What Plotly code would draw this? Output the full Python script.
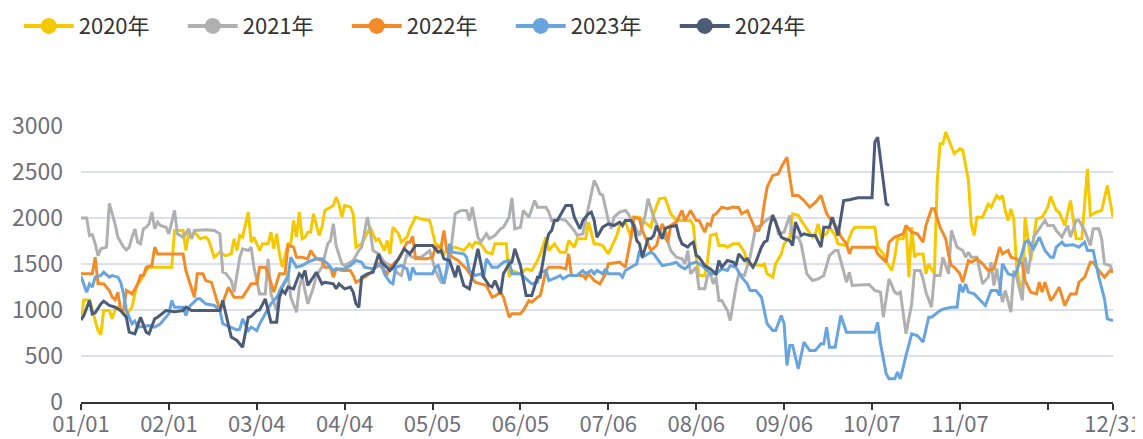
import plotly.graph_objects as go

# ---------------- data (day index from 01/01, value) ----------------
series_names = ["2020年", "2021年", "2022年", "2023年", "2024年"]
series_colors = ["#F5C800", "#B0B0B0", "#F28C28", "#68A5DE", "#4B5B78"]

tick_days = [0, 31, 62, 93, 124, 155, 186, 217, 248, 279, 310, 341, 364]
tick_labels = ["01/01", "02/01", "03/04", "04/04", "05/05", "06/05", "07/06",
               "08/06", "09/06", "10/07", "11/07", "", "12/31"]
y_ticks = [0, 500, 1000, 1500, 2000, 2500, 3000]

y2020 = [(0,886),(1,1110),(3,1110),(4,994),(6,777),(7,733),(8,994),(10,994),(11,904),(12,1000),(13,1030),(14,1010),
         (16,922),(17,994),(18,1030),(19,1175),(20,1284),(21,1320),(23,1429),(24,1465),(32,1465),(33,1864),(36,1864),
         (37,1647),(38,1850),(39,1774),(40,1850),(42,1774),(44,1792),(45,1760),(47,1574),(49,1628),(51,1590),(53,1610),
         (54,1774),(55,1647),(56,1810),(57,1792),(59,2064),(60,1737),(61,1792),(63,1647),(64,1720),(66,1720),(67,1846),
         (68,1665),(69,1828),(70,1610),(71,1465),(73,1719),(74,1719),(75,1973),(76,1792),(77,2064),(78,1774),(79,1792),
         (80,1846),(81,1846),(82,2046),(84,1810),(85,1900),(86,2082),(87,2100),(89,2136),(90,2227),(91,2150),(92,2009),
         (93,2136),(95,2120),(96,2046),(97,1683),(99,1719),(102,1900),(104,1755),(105,1774),(107,1647),(108,1755),
         (109,1610),(110,1900),(112,1828),(113,1737),(115,1792),(116,1882),(118,2009),(120,1990),(123,1973),(125,1719),
         (127,1683),(128,1610),(130,1683),(132,1683),(135,1647),(137,1719),(138,1683),(139,1737),(141,1719),(143,1628),
         (145,1610),(146,1719),(150,1719),(151,1357),(152,1429),(155,1393),(157,1447),(159,1429),(161,1538),(162,1610),
         (164,1792),(165,1647),(167,1719),(169,1628),(171,1628),(172,1755),(174,1683),(175,1774),(178,1774),(179,1955),
         (181,1719),(182,1720),(184,1701),(186,1610),(188,1737),(189,1810),(190,1918),(192,1955),(194,1792),(195,2009),
         (197,2009),(198,1973),(201,1900),(202,2046),(204,2209),(206,2219),(208,2046),(210,1973),(215,1973),(216,1918),
         (217,1574),(218,1375),(220,1375),(221,1538),(222,1810),(224,1828),(225,1701),(227,1701),(228,1683),(230,1719),
         (232,1720),(234,1628),(235,1502),(240,1483),(241,1500),(242,1393),(244,1357),(245,1502),(247,1610),(248,1719),
         (250,1792),(251,2046),(253,2030),(254,1973),(256,1882),(258,1792),(259,1828),(260,1937),(261,1792),(263,1828),
         (264,1900),(266,1810),(267,1719),(270,1701),(272,1864),(273,1900),(280,1900),(281,1683),(283,1610),(284,1520),
         (286,1429),(287,1574),(288,1774),(290,1774),(291,1918),(292,1357),(293,1900),(294,1574),(295,1610),(297,1610),
         (298,1393),(299,1500),(301,1393),(302,2400),(303,2807),(304,2807),(305,2933),(307,2770),(308,2698),(310,2752),
         (311,2740),(313,2407),(314,1937),(315,1810),(316,2009),(318,2009),(320,2150),(321,2118),(323,2245),(324,2209),
         (325,2245),(326,2082),(327,1973),(328,2100),(329,1990),(330,1465),(332,1139),(333,2009),(335,1538),(337,1990),
         (339,2009),(341,2118),(342,2234),(344,2082),(345,2064),(347,1918),(349,2190),(351,1774),(353,1774),(355,2534),
         (356,2027),(358,2064),(360,2082),(362,2353),(364,2009)]

y2021 = [(0,2000),(2,2000),(3,1810),(4,1820),(5,1720),(6,1590),(7,1665),(9,1683),(10,2160),(12,1937),(13,1790),(15,1683),
         (16,1654),(17,1683),(18,1790),(19,1882),(20,1737),(21,1719),(22,1882),(23,1900),(24,1937),(25,2064),(26,1882),
         (27,1955),(28,1918),(30,1900),(31,1828),(33,2082),(34,1828),(36,1792),(38,1882),(39,1774),(40,1864),(44,1872),
         (47,1864),(49,1828),(50,1411),(51,1400),(53,1320),(54,1194),(56,1574),(57,1665),(59,1647),(60,1683),(61,1465),
         (63,1175),(65,1175),(66,1556),(67,1175),(69,994),(70,1212),(73,1375),(74,1139),(76,976),(77,1248),(78,1357),
         (80,1067),(82,1248),(83,1375),(85,1465),(87,1719),(88,1755),(89,1937),(90,1700),(92,1502),(93,1483),(96,1538),
         (98,1647),(99,1683),(101,2009),(102,1864),(103,1647),(105,1610),(107,1520),(109,1483),(112,1393),(113,1375),
         (115,1610),(117,1574),(120,1574),(123,1647),(125,1429),(127,1302),(128,1302),(130,1538),(132,2046),(134,2082),
         (136,2082),(137,1973),(138,2118),(140,1792),(141,1737),(143,1828),(144,1774),(146,1810),(148,1882),(149,1900),
         (151,2009),(152,2219),(153,1882),(155,1900),(156,2082),(158,2009),(160,2190),(161,2118),(164,2118),(165,2064),
         (166,1973),(169,1990),(171,1973),(174,1864),(175,1810),(177,1828),(179,2118),(181,2407),(182,2350),(183,2263),
         (184,2250),(186,1973),(187,1882),(188,2009),(190,2064),(192,2082),(193,2046),(195,1937),(196,1864),(197,1810),
         (199,2027),(200,2209),(202,2009),(203,1937),(204,1864),(207,1737),(208,1647),(210,1574),(212,1556),(213,1502),
         (214,1647),(215,1393),(217,1465),(218,1230),(220,1230),(221,1375),(222,1393),(223,1284),(224,1357),(225,1103),
         (226,1103),(228,994),(229,886),(231,1248),(232,1393),(234,1375),(236,1574),(238,1900),(240,1918),(241,1955),
         (244,2027),(245,1973),(246,1828),(248,1846),(250,2027),(251,1792),(253,1792),(254,1719),(256,1393),(258,1320),
         (260,1338),(261,1357),(262,1375),(264,1592),(266,1647),(267,1647),(268,1538),(270,1302),(271,1411),(272,1266),
         (278,1277),(280,1212),(282,1194),(283,922),(285,1338),(287,1194),(288,1175),(289,1194),(291,741),(293,1067),
         (294,1429),(296,1429),(297,1338),(298,1194),(300,1030),(301,1375),(303,1375),(304,1574),(306,1393),(307,1864),
         (309,1683),(311,1647),(312,1574),(313,1628),(314,1574),(316,1574),(318,1284),(320,1357),(321,1520),(322,1266),
         (323,1450),(325,1085),(326,1212),(328,976),(329,1429),(330,1357),(332,1103),(333,1574),(334,1393),(336,1792),
         (340,1973),(341,1918),(343,1918),(344,1864),(346,1792),(348,1918),(349,1792),(351,1973),(352,1973),(354,1864),
         (356,1701),(357,1882),(359,1882),(360,1774),(361,1502),(363,1483),(364,1411)]

y2022 = [(0,1393),(4,1393),(5,1574),(6,1284),(8,1284),(10,1212),(11,1139),(12,1110),(13,1194),(14,994),(15,1000),
         (16,1212),(18,1175),(20,1284),(21,1375),(22,1375),(23,1465),(25,1483),(26,1683),(27,1610),(36,1610),(37,1429),
         (40,1139),(41,1393),(43,1393),(44,1320),(46,1300),(49,994),(52,1248),(54,1139),(57,1139),(59,1230),(60,1284),
         (62,1284),(63,1465),(65,1465),(66,1393),(68,1194),(69,1284),(70,1393),(72,1393),(73,1701),(75,1683),(76,1574),
         (78,1574),(80,1556),(81,1647),(83,1556),(85,1538),(86,1465),(88,1465),(89,1357),(90,1447),(92,1429),(95,1429),
         (96,1375),(97,1302),(99,1340),(101,1375),(103,1429),(105,1502),(106,1465),(108,1393),(109,1465),(112,1556),
         (113,1610),(115,1737),(116,1737),(117,1800),(118,1556),(122,1556),(124,1574),(125,1683),(127,1683),(128,1864),
         (129,1647),(131,1574),(133,1538),(136,1447),(137,1400),(139,1302),(141,1284),(143,1266),(145,1139),(146,1150),
         (148,1194),(149,1139),(151,922),(152,960),(155,960),(156,994),(158,1103),(159,1085),(161,1139),(162,1157),
         (164,1429),(165,1465),(169,1465),(171,1447),(172,1610),(173,1375),(177,1375),(178,1340),(179,1393),(181,1320),
         (183,1284),(185,1393),(186,1502),(190,1520),(192,1465),(194,1792),(195,2009),(197,1990),(198,1864),(200,1719),
         (201,1647),(203,1701),(205,1937),(206,1864),(207,1737),(208,1918),(210,1955),(212,2082),(213,1973),(215,2082),
         (217,1973),(218,1973),(220,1846),(221,1937),(222,1918),(223,2027),(224,2046),(226,2118),(228,2100),(230,2118),
         (232,2113),(233,2046),(235,2080),(236,2009),(238,1864),(239,1864),(240,1937),(241,2154),(242,2335),(244,2462),
         (246,2480),(247,2552),(249,2661),(250,2444),(251,2245),(253,2245),(255,2190),(257,2118),(259,2170),(261,2245),
         (263,2046),(265,1960),(267,1880),(268,1800),(270,1719),(271,1610),(272,1683),(280,1683),(281,1610),(284,1520),
         (285,1737),(287,1792),(290,1828),(291,1918),(293,1846),(295,1828),(297,1737),(298,1918),(300,2100),(301,2100),
         (303,1900),(305,1774),(306,1600),(307,1483),(308,1465),(310,1393),(311,1302),(313,1538),(314,1520),(316,1556),
         (318,1502),(320,1429),(322,1447),(324,1683),(325,1610),(327,1647),(328,1574),(330,1556),(332,1502),(333,1320),
         (335,1194),(337,1175),(338,1302),(339,1194),(340,1302),(342,1103),(343,1139),(345,1248),(346,1139),(347,1049),
         (349,1175),(351,1175),(352,1302),(354,1357),(356,1520),(357,1520),(359,1429),(361,1357),(363,1429),(364,1411)]

y2023 = [(0,1368),(2,1194),(3,1284),(4,1250),(5,1357),(7,1375),(8,1411),(10,1357),(11,1375),(13,1357),(14,1302),
         (15,1175),(16,994),(18,850),(19,880),(20,813),(24,830),(26,813),(28,850),(30,922),(31,960),(32,1103),(33,1030),
         (36,1030),(37,940),(38,1030),(41,1121),(42,1121),(44,1067),(47,1050),(49,994),(50,850),(53,813),(55,784),
         (56,790),(57,904),(59,777),(60,813),(62,777),(63,850),(65,958),(67,1067),(69,1139),(71,1248),(73,1357),
         (74,1574),(76,1465),(78,1483),(80,1520),(83,1556),(85,1556),(87,1502),(89,1429),(90,1447),(93,1447),(95,1483),
         (97,1538),(99,1520),(100,1465),(103,1447),(105,1483),(106,1520),(107,1393),(109,1302),(110,1284),(111,1465),
         (113,1483),(115,1447),(116,1320),(117,1465),(118,1393),(124,1393),(125,1465),(126,1483),(128,1284),(129,1450),
         (130,1719),(131,1628),(135,1610),(136,1574),(137,1429),(139,1375),(141,1393),(142,1357),(143,1556),(145,1465),
         (147,1465),(149,1520),(151,1538),(152,1393),(155,1393),(157,1338),(159,1284),(161,1302),(162,1411),(164,1429),
         (165,1320),(168,1357),(169,1375),(170,1338),(172,1375),(175,1375),(177,1429),(178,1393),(180,1429),(181,1393),
         (182,1429),(184,1393),(185,1447),(186,1393),(190,1393),(191,1357),(192,1429),(195,1483),(196,1500),(197,1647),
         (198,1574),(201,1628),(202,1610),(205,1483),(208,1500),(210,1520),(211,1483),(213,1447),(215,1502),(217,1520),
         (219,1483),(221,1429),(222,1393),(224,1393),(226,1447),(228,1429),(229,1483),(231,1465),(233,1357),(235,1284),
         (236,1212),(238,1212),(240,1139),(241,994),(242,850),(244,777),(245,777),(247,940),(248,850),(249,397),(250,615),
         (251,615),(253,361),(255,651),(257,560),(259,560),(261,633),(262,633),(263,813),(264,596),(266,596),(268,940),
         (270,759),(280,759),(281,868),(282,633),(284,306),(285,252),(287,252),(288,324),(289,252),(291,506),(293,741),
         (295,720),(297,651),(299,922),(300,922),(303,994),(304,1010),(307,1030),(309,1030),(310,1284),(311,1194),
         (312,1284),(313,1194),(315,1175),(319,1049),(321,1212),(323,1212),(324,1157),(325,1502),(327,1393),(329,1375),
         (330,1411),(332,1647),(333,1737),(334,1755),(336,1665),(338,1792),(340,1647),(342,1574),(343,1574),(344,1683),
         (346,1737),(347,1701),(350,1710),(352,1683),(354,1737),(355,1647),(357,1647),(359,1357),(361,1121),(362,904),
         (364,886)]

y2024 = [(0,893),(1,940),(3,1103),(4,958),(5,970),(7,1067),(8,1096),(10,1049),(12,1030),(14,994),(16,922),(17,759),
         (19,741),(21,922),(23,759),(24,741),(26,904),(27,922),(30,994),(33,980),(36,994),(37,1030),(39,994),(44,994),
         (49,994),(50,1103),(51,958),(52,850),(53,705),(55,669),(57,596),(59,922),(60,930),(62,994),(63,1000),(65,1121),
         (66,1000),(67,868),(69,868),(70,1139),(71,1212),(72,1180),(73,1248),(75,1230),(77,1393),(78,1357),(79,1429),
         (80,1266),(83,1411),(85,1284),(86,1302),(89,1284),(90,1230),(91,1284),(93,1230),(95,1250),(96,1194),(97,1067),
         (98,1030),(99,1357),(101,1393),(103,1411),(105,1610),(106,1520),(109,1429),(110,1465),(112,1556),(114,1665),
         (116,1610),(118,1701),(124,1701),(126,1628),(127,1647),(128,1556),(130,1538),(131,1447),(132,1357),(133,1483),
         (135,1266),(137,1230),(140,1665),(142,1357),(144,1266),(145,1250),(146,1320),(148,1175),(149,1393),(151,1502),
         (152,1520),(153,1665),(155,1483),(157,1157),(159,1157),(161,1357),(162,1357),(164,1719),(165,1828),(166,1864),
         (167,1973),(168,1973),(169,2027),(171,2136),(173,2136),(174,2009),(176,1882),(177,1973),(179,2046),(180,2064),
         (181,1973),(182,1792),(184,1900),(186,1937),(188,1918),(190,1955),(191,1918),(192,1973),(194,1973),(195,1918),
         (196,1755),(197,1719),(198,1574),(200,1774),(201,1774),(202,1810),(203,1918),(205,1774),(206,1882),(207,1900),
         (210,1918),(211,1792),(212,1719),(214,1683),(215,1719),(216,1737),(217,1592),(218,1574),(220,1483),(221,1465),
         (222,1447),(224,1393),(225,1538),(226,1465),(228,1538),(230,1520),(231,1483),(232,1610),(234,1538),(235,1556),
         (237,1465),(238,1520),(240,1683),(241,1737),(242,1755),(243,1918),(244,2027),(245,1955),(247,1792),(248,1774),
         (250,1755),(251,1701),(252,1955),(254,1810),(255,1828),(257,1810),(259,1810),(261,1683),(262,1900),(264,1900),
         (265,2009),(267,1810),(269,2190),(271,2199),(274,2219),(279,2219),(280,2824),(281,2879),(282,2625),(284,2154),
         (285,2136)]

all_series = [y2020, y2021, y2022, y2023, y2024]

# ---------------- figure ----------------
FONT = "Noto Sans CJK SC, Noto Sans, sans-serif"
fig = go.Figure()

for name, color, data in zip(series_names, series_colors, all_series):
    xs = [d for d, _ in data]
    ys = [v for _, v in data]
    fig.add_trace(go.Scatter(
        x=xs, y=ys, mode="lines", name=name, legendgroup=name, showlegend=False,
        line=dict(color=color, width=3), hoverinfo="x+y"))

for name, color in zip(series_names, series_colors):
    fig.add_trace(go.Scatter(
        x=[None], y=[None], mode="lines+markers", name=name, legendgroup=name,
        line=dict(color=color, width=4), marker=dict(color=color, size=16, symbol="circle")))

# the page body adds an 8px offset; plot area is placed so it lands where the reference has it
W, H = 1143, 431
fig.update_layout(
    width=W, height=H,
    margin=dict(l=73, r=38, t=118, b=37, autoexpand=False),
    paper_bgcolor="white", plot_bgcolor="white",
    font=dict(family=FONT, size=22, color="#6E7079"),
    showlegend=True,
    legend=dict(orientation="h", xref="container", yref="paper",
                x=0.0094, y=1.362, xanchor="left", yanchor="middle",
                font=dict(family=FONT, size=22, color="#333333"),
                entrywidth=99, entrywidthmode="pixels",
                itemwidth=50, bgcolor="rgba(0,0,0,0)", traceorder="normal"),
    xaxis=dict(range=[0, 364], tickmode="array", tickvals=tick_days, ticktext=tick_labels,
               showgrid=False, zeroline=False, showline=True, linecolor="#333333", linewidth=2,
               ticks="outside", ticklen=6, tickwidth=1.5, tickcolor="#333333", automargin=False,
               ticklabelstandoff=-4, ticklabeloverflow="allow",
               tickfont=dict(family=FONT, size=22, color="#6E7079")),
    yaxis=dict(range=[0, 3000], tickmode="array", tickvals=y_ticks, automargin=False,
               showgrid=True, gridcolor="#DCE0EA", gridwidth=1.5, zeroline=False,
               showline=False, ticks="", ticklabelstandoff=17,
               tickfont=dict(family=FONT, size=23, color="#6E7079")),
)

fig.write_html("out.html")
